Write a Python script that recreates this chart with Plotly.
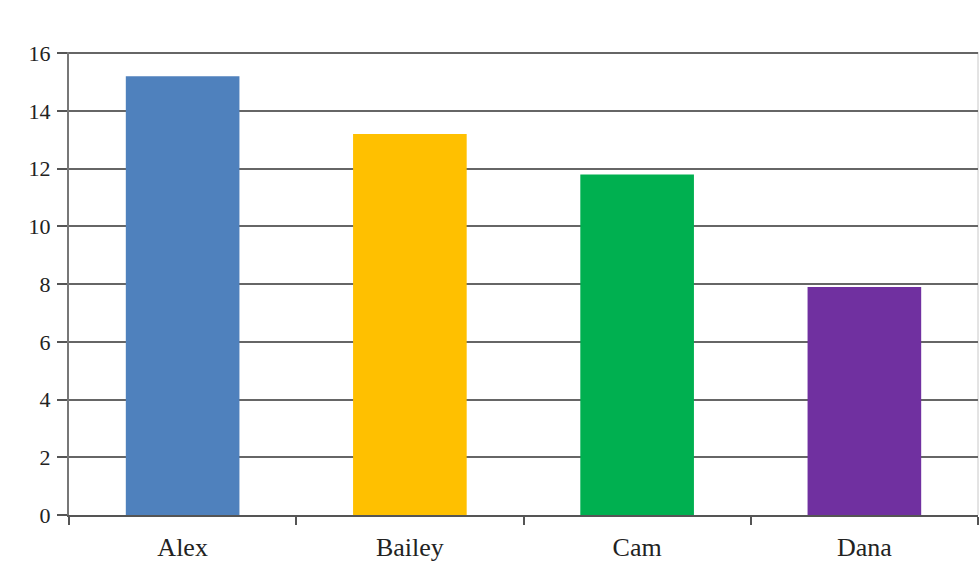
import plotly.graph_objects as go

names = ["Alex", "Bailey", "Cam", "Dana"]
values = [15.2, 13.2, 11.8, 7.9]
bar_colors = ["#4F81BD", "#FFC000", "#00B050", "#7030A0"]
y_ticks = [0, 2, 4, 6, 8, 10, 12, 14, 16]

fig = go.Figure(
    go.Bar(
        x=names,
        y=values,
        marker=dict(color=bar_colors, line=dict(width=0)),
        width=0.5,
        hoverinfo="x+y",
    )
)

fig.update_layout(
    width=980,
    height=573,
    margin=dict(l=69, r=2, t=52, b=58),
    paper_bgcolor="white",
    plot_bgcolor="white",
    font=dict(family="Liberation Serif, Times New Roman, serif", size=22, color="#222"),
    showlegend=False,
    shapes=[
        # light frame edge on the right of the plot area
        dict(type="line", xref="paper", yref="paper", x0=1, x1=1, y0=0, y1=1,
             line=dict(color="#c8c8c8", width=1), layer="below"),
    ],
)

fig.update_xaxes(
    type="category",
    tickson="boundaries",
    ticks="outside",
    ticklen=8,
    tickwidth=2,
    tickcolor="#555",
    showline=True,
    linecolor="#555",
    linewidth=2,
    showgrid=False,
    tickfont=dict(size=26),
    ticklabelstandoff=8,
)

fig.update_yaxes(
    range=[0, 16.04],
    tickvals=y_ticks,
    ticks="outside",
    ticklen=10,
    tickwidth=2,
    tickcolor="#555",
    showline=True,
    linecolor="#777",
    linewidth=2,
    showgrid=True,
    gridcolor="#666",
    gridwidth=2,
    zeroline=False,
    tickfont=dict(size=22),
    ticklabelstandoff=2,
)

fig.write_html("out.html")
